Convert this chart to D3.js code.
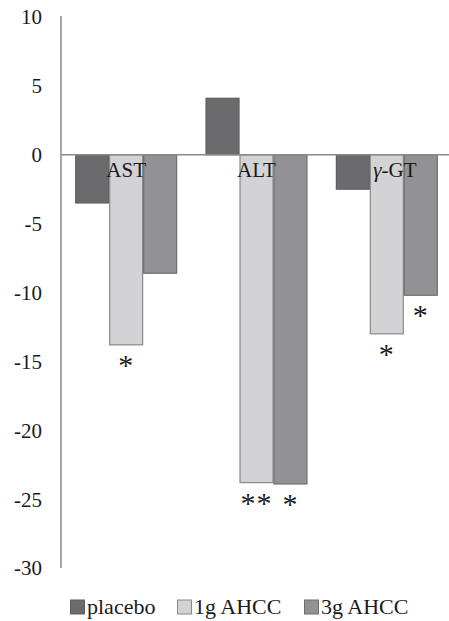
<!DOCTYPE html>
<html>
<head>
<meta charset="utf-8">
<script src="https://cdn.jsdelivr.net/npm/d3@7"></script>
<style>
  html, body { margin: 0; padding: 0; background: #fff; }
</style>
</head>
<body>
<div id="chart"></div>
<script>
const categories = ['AST', 'ALT', 'γ-GT'];
const seriesNames = ['placebo', '1g AHCC', '3g AHCC'];
const placebo = [-3.5, 4.1, -2.5];
const ahcc1g = [-13.8, -23.8, -13.0];
const ahcc3g = [-8.6, -23.9, -10.2];
const sig1g = ['*', '**', '*'];
const sig3g = ['', '*', '*'];
const yTicks = [10, 5, 0, -5, -10, -15, -20, -25, -30];

const W = 449, H = 621;
const FONT = '"Liberation Serif", "Times New Roman", "DejaVu Serif", serif';
const colors = { 'placebo': '#6b6b6e', '1g AHCC': '#d3d3d5', '3g AHCC': '#929295' };
const strokes = { 'placebo': '#5e5e61', '1g AHCC': '#8a8a8c', '3g AHCC': '#6e6e71' };

const svg = d3.select('#chart').append('svg').attr('width', W).attr('height', H)
    .style('font-family', FONT);

const y = d3.scaleLinear().domain([-30, 10]).range([568, 17]);
const x0 = d3.scaleBand().domain(categories).range([61, 452]).paddingInner(0.218).paddingOuter(0.109);
const x1 = d3.scaleBand().domain(seriesNames).range([0, x0.bandwidth()]);

const rows = categories.map((c, i) => ({
    cat: c,
    vals: [
        { k: 'placebo', v: placebo[i], s: '' },
        { k: '1g AHCC', v: ahcc1g[i], s: sig1g[i] },
        { k: '3g AHCC', v: ahcc3g[i], s: sig3g[i] }
    ]
}));

// y axis labels, no tick marks
const yAxis = svg.append('g').attr('transform', 'translate(42,0)')
    .call(d3.axisLeft(y).tickValues(yTicks).tickSize(0).tickPadding(0).tickFormat(d => String(d)));
yAxis.attr('font-family', null).attr('font-size', null);
yAxis.select('.domain').remove();
yAxis.selectAll('text').style('font-family', FONT).style('font-size', '21px').attr('dy', '0.33em').attr('fill', '#1a1a1a');

const g = svg.selectAll('g.group').data(rows).enter().append('g')
    .attr('class', 'group').attr('transform', d => `translate(${x0(d.cat)},0)`);

g.selectAll('rect').data(d => d.vals).enter().append('rect')
    .attr('x', d => x1(d.k) + 0.5)
    .attr('y', d => y(Math.max(0, d.v)))
    .attr('width', x1.bandwidth() - 1)
    .attr('height', d => Math.abs(y(d.v) - y(0)))
    .attr('fill', d => colors[d.k])
    .attr('stroke', d => strokes[d.k])
    .attr('stroke-width', 1.2);

// significance stars below bars
g.selectAll('text.sig').data(d => d.vals.filter(v => v.s)).enter().append('text')
    .attr('class', 'sig')
    .attr('x', d => x1(d.k) + x1.bandwidth() / 2)
    .attr('y', d => y(d.v) + 30)
    .attr('text-anchor', 'middle')
    .attr('fill', '#1a1a1a')
    .style('font-family', FONT)
    .style('font-size', '30px')
    .style('letter-spacing', '1px')
    .text(d => d.s);

// axis lines
svg.append('line').attr('x1', 61).attr('x2', 61).attr('y1', y(10) - 1).attr('y2', y(-30))
    .attr('stroke', '#8a8a8a').attr('stroke-width', 1.5);
svg.append('line').attr('x1', 61).attr('x2', W).attr('y1', y(0)).attr('y2', y(0))
    .attr('stroke', '#8a8a8a').attr('stroke-width', 1.5);

// category labels
svg.selectAll('text.cat').data(categories).enter().append('text')
    .attr('class', 'cat')
    .attr('x', d => x0(d) + x0.bandwidth() / 2 + (d === 'γ-GT' ? 8 : 0))
    .attr('y', y(0) + 22)
    .attr('text-anchor', 'middle')
    .attr('fill', '#1a1a1a')
    .style('font-family', FONT)
    .style('font-size', '21px')
    .each(function (d) {
        const t = d3.select(this);
        if (d.startsWith('γ')) {
            t.append('tspan').style('font-style', 'italic').text('γ');
            t.append('tspan').text(d.slice(1));
        } else t.text(d);
    });

// legend
const legend = svg.append('g').attr('transform', 'translate(70,607)');
const legX = [0, 107, 234];
seriesNames.forEach((n, i) => {
    const lg = legend.append('g').attr('transform', `translate(${legX[i]},0)`);
    lg.append('rect').attr('x', 0.5).attr('y', -7).attr('width', 14).attr('height', 14)
        .attr('fill', colors[n]).attr('stroke', strokes[n]).attr('stroke-width', 1);
    lg.append('text').attr('x', 17).attr('y', 7).attr('fill', '#1a1a1a')
        .style('font-family', FONT).style('font-size', '22px').text(n);
});
</script>
</body>
</html>
